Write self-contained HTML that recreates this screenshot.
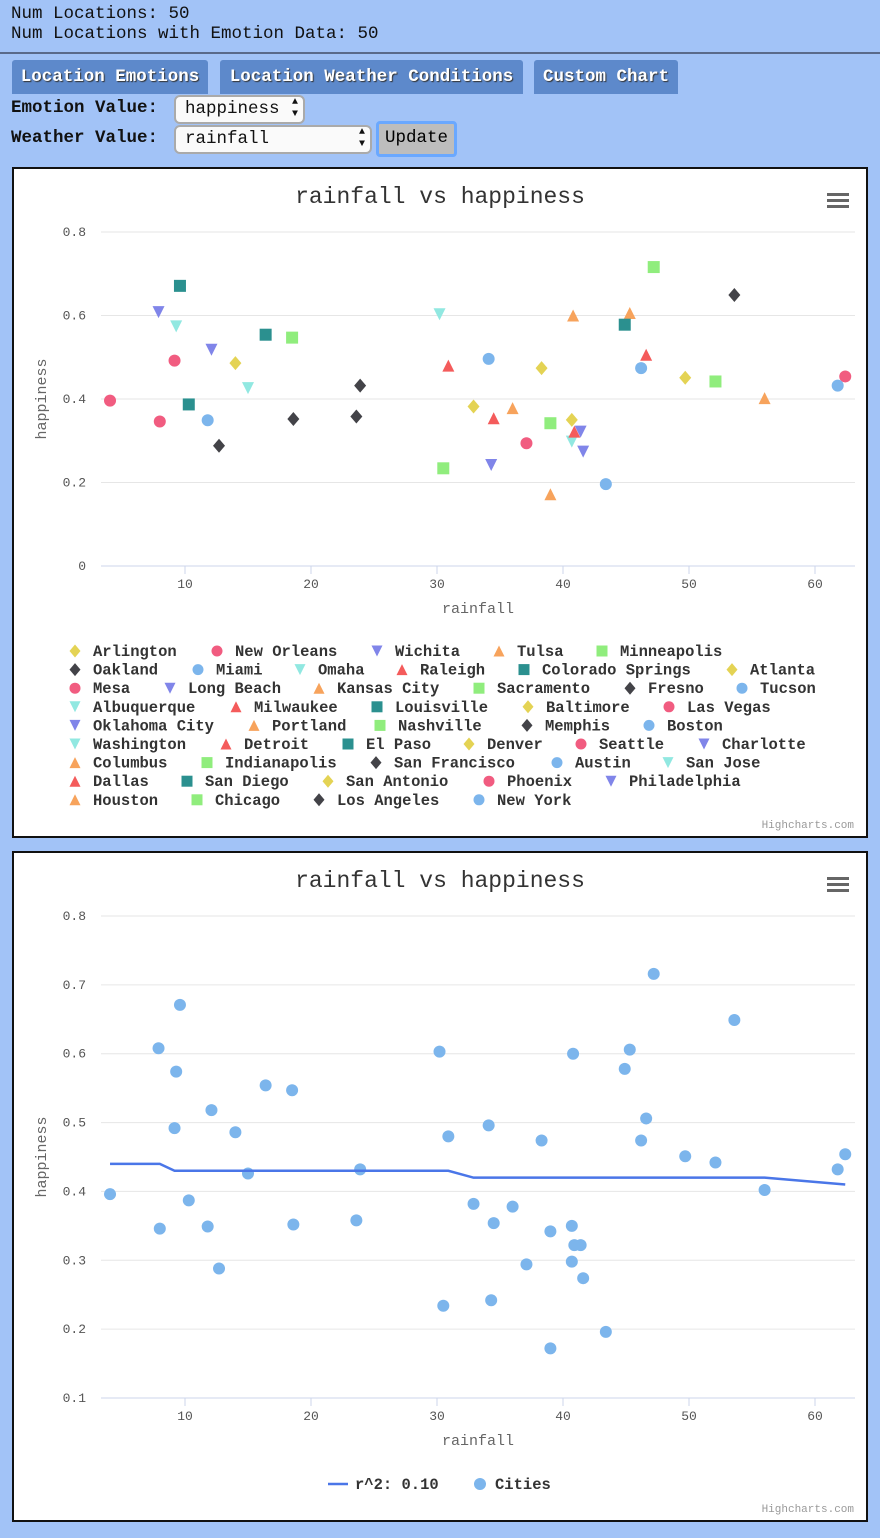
<!DOCTYPE html>
<html><head><meta charset="utf-8">
<style>
body{margin:0;width:880px;height:1538px;background:#a2c3f7;font-family:"Liberation Mono",monospace;overflow:hidden;position:relative}
.hdr{position:absolute;left:11px;font-size:17.5px;color:#111;line-height:20px}
.rule{position:absolute;left:0;top:52px;width:880px;height:2px;background:#5a6a8a}
.tab{position:absolute;top:60px;height:34px;background:#5d89cb;color:#fff;font-weight:bold;font-size:17.5px;line-height:34px;text-align:center;text-shadow:1px 1px 1px #333;border-radius:3px 3px 0 0}
.lbl{position:absolute;left:11px;font-weight:bold;font-size:17.5px;color:#111}
.sel{position:absolute;background:#fafafa;border:2px solid #aaa;border-radius:6px;font-size:17.5px;line-height:24px;padding-left:9px;box-sizing:border-box;color:#111}
.sel span{position:absolute;right:5px;top:0;font-size:10px;line-height:12px}
.btn{position:absolute;left:376px;top:121px;width:81px;height:36px;border:3px solid #6aa8ff;border-radius:4px;box-sizing:border-box;background:#bdbdbd;font-size:17.5px;text-align:center;line-height:28px}
.box{position:absolute;left:12px;width:852px;background:#fff;border:2px solid #111}
svg text{font-family:"Liberation Mono",monospace}
</style></head><body>
<div class="hdr" style="top:4px">Num Locations: 50</div>
<div class="hdr" style="top:24px">Num Locations with Emotion Data: 50</div>
<div class="rule"></div>
<div class="tab" style="left:12px;width:196px">Location Emotions</div>
<div class="tab" style="left:220px;width:303px">Location Weather Conditions</div>
<div class="tab" style="left:534px;width:144px">Custom Chart</div>
<div class="lbl" style="top:98px">Emotion Value:</div>
<div class="sel" style="left:174px;top:95px;width:131px;height:29px">happiness<span>▲<br>▼</span></div>
<div class="lbl" style="top:128px">Weather Value:</div>
<div class="sel" style="left:174px;top:125px;width:198px;height:29px">rainfall<span>▲<br>▼</span></div>
<div class="btn">Update</div>
<div class="box" style="top:167px;height:667px"><svg id="c1" width="852" height="667"></svg></div>
<div class="box" style="top:851px;height:667px"><svg id="c2" width="852" height="667"></svg></div>
<script>
const cities=["Arlington","New Orleans","Wichita","Tulsa","Minneapolis","Oakland","Miami","Omaha","Raleigh","Colorado Springs","Atlanta","Mesa","Long Beach","Kansas City","Sacramento","Fresno","Tucson","Albuquerque","Milwaukee","Louisville","Baltimore","Las Vegas","Oklahoma City","Portland","Nashville","Memphis","Boston","Washington","Detroit","El Paso","Denver","Seattle","Charlotte","Columbus","Indianapolis","San Francisco","Austin","San Jose","Dallas","San Diego","San Antonio","Phoenix","Philadelphia","Houston","Chicago","Los Angeles","New York"];
const rainfall=[14.0,4.05,7.9,40.8,47.2,53.6,11.8,9.3,30.9,9.6,32.9,8.0,12.1,45.3,18.5,23.9,34.1,15.0,34.5,10.3,38.3,9.17,34.3,36.0,39.0,23.6,46.2,30.2,46.6,16.4,40.7,37.1,41.4,39.0,30.5,18.6,43.4,40.7,40.9,44.9,49.7,62.4,41.6,56.0,52.1,12.7,61.8];
const happiness=[0.486,0.396,0.608,0.600,0.716,0.649,0.349,0.574,0.480,0.671,0.382,0.346,0.518,0.606,0.547,0.432,0.496,0.426,0.354,0.387,0.474,0.492,0.242,0.378,0.342,0.358,0.474,0.603,0.506,0.554,0.350,0.294,0.322,0.172,0.234,0.352,0.196,0.298,0.322,0.578,0.451,0.454,0.274,0.402,0.442,0.288,0.432];
const trendX=[4.05,8.0,9.17,30.9,32.9,56.0,62.4];
const trendY=[0.44,0.44,0.43,0.43,0.42,0.42,0.41];
const xTicks=[10,20,30,40,50,60];
const yTicks1=[0,0.2,0.4,0.6,0.8];
const yTicks2=[0.1,0.2,0.3,0.4,0.5,0.6,0.7,0.8];
const colors=["#e4d354","#f15c80","#8085e9","#f7a35c","#90ed7d","#434348","#7cb5ec","#91e8e1","#f45b5b","#2b908f"];
const shapes=["diamond","circle","tridown","triangle","square"];
const legendRows=[[74,216,376,498,601],[74,197,299,401,523,731],[74,169,318,478,629,741],[74,235,376,527,668],[74,253,379,526,648],[74,225,347,468,580,703],[74,206,375,556,667],[74,186,327,488,610],[74,196,318,478]];
const NS="http://www.w3.org/2000/svg";
function mk(svg,tag,attrs,txt){const e=document.createElementNS(NS,tag);for(const k in attrs)e.setAttribute(k,attrs[k]);if(txt!=null)e.textContent=txt;svg.appendChild(e);return e;}
function marker(svg,shape,cx,cy,col,r){
  let e;
  if(shape==="circle")e=mk(svg,"circle",{cx:cx,cy:cy,r:r,fill:col});
  else if(shape==="square")e=mk(svg,"rect",{x:cx-r,y:cy-r,width:2*r,height:2*r,fill:col});
  else if(shape==="diamond")e=mk(svg,"path",{d:`M${cx} ${cy-r-1}L${cx+r} ${cy}L${cx} ${cy+r+1}L${cx-r} ${cy}Z`,fill:col});
  else if(shape==="triangle")e=mk(svg,"path",{d:`M${cx} ${cy-r}L${cx+r} ${cy+r}L${cx-r} ${cy+r}Z`,fill:col});
  else e=mk(svg,"path",{d:`M${cx-r} ${cy-r}L${cx+r} ${cy-r}L${cx} ${cy+r}Z`,fill:col});
  return e;
}
function frame(svg,top,bottom,yMin,yMax,yTicks,fmt){
  const L=87,R=841;
  const xs=v=>45+(v)*12.6;
  const ys=v=>bottom-(v-yMin)/(yMax-yMin)*(bottom-top);
  let t=mk(svg,"text",{x:426,y:34,"text-anchor":"middle","font-size":23,fill:"#333"},"rainfall vs happiness");
  
  const m=mk(svg,"g",{});
  for(let i=0;i<3;i++)mk(m,"rect",{x:813,y:24+i*6,width:22,height:3,fill:"#666"});
  yTicks.forEach(v=>{
    if(v!==yMin||yMin>0){const g=mk(svg,"line",{x1:L,x2:R,y1:ys(v),y2:ys(v),stroke:"#e6e6e6"});}
    const l=mk(svg,"text",{x:72,y:ys(v)+4,"text-anchor":"end","font-size":13,fill:"#555"},fmt(v));
    
  });
  const ax=mk(svg,"line",{x1:L,x2:R,y1:bottom,y2:bottom,stroke:"#ccd6eb"});
  xTicks.forEach(v=>{
    mk(svg,"line",{x1:xs(v),x2:xs(v),y1:bottom,y2:bottom+8,stroke:"#ccd6eb"});
    const l=mk(svg,"text",{x:xs(v),y:bottom+22,"text-anchor":"middle","font-size":13,fill:"#555"},String(v));
    
  });
  const xt=mk(svg,"text",{x:464,y:bottom+47,"text-anchor":"middle","font-size":15,fill:"#666"},"rainfall");
  
  const cy=(top+bottom)/2;
  const yt=mk(svg,"text",{x:32,y:cy,"text-anchor":"middle","font-size":15,fill:"#666",transform:`rotate(-90 32 ${cy})`},"happiness");
  
  const cr=mk(svg,"text",{x:840,y:659,"text-anchor":"end","font-size":11,fill:"#999"},"Highcharts.com");
  
  return {xs,ys};
}
const s1=document.getElementById("c1");
const a1=frame(s1,63,397,0,0.8,yTicks1,v=>v===0?"0":v.toFixed(1));
cities.forEach((c,i)=>{
  const e=marker(s1,shapes[i%5],a1.xs(rainfall[i]),a1.ys(happiness[i]),colors[i%10],6);
  
  
});
let idx=0;
legendRows.forEach((row,ri)=>{
  row.forEach(x=>{
    const i=idx++;if(i>=cities.length)return;
    const y=487+ri*18.6;
    const g=mk(s1,"g",{});
    
    
    marker(g,shapes[i%5],x-13,y-5,colors[i%10],5.5);
    mk(g,"text",{x:x+5,y:y,"font-size":15.5,"font-weight":"bold",fill:"#333"},cities[i]);
  });
});
const s2=document.getElementById("c2");
const a2=frame(s2,63,545,0.1,0.8,yTicks2,v=>v.toFixed(1));
cities.forEach((c,i)=>{
  const e=mk(s2,"circle",{cx:a2.xs(rainfall[i]),cy:a2.ys(happiness[i]),r:6,fill:"#7cb5ec"});
  
  
});
const tl=mk(s2,"polyline",{points:trendX.map((x,i)=>a2.xs(x)+","+a2.ys(trendY[i])).join(" "),fill:"none",stroke:"#4a76e8","stroke-width":2.5});


const lg1=mk(s2,"g",{});


mk(lg1,"line",{x1:314,x2:334,y1:631,y2:631,stroke:"#4a76e8","stroke-width":2.5});
mk(lg1,"text",{x:341,y:636,"font-size":15.5,"font-weight":"bold",fill:"#333"},"r^2: 0.10");
const lg2=mk(s2,"g",{});


mk(lg2,"circle",{cx:466,cy:631,r:6,fill:"#7cb5ec"});
mk(lg2,"text",{x:481,y:636,"font-size":15.5,"font-weight":"bold",fill:"#333"},"Cities");
</script>
</body></html>
